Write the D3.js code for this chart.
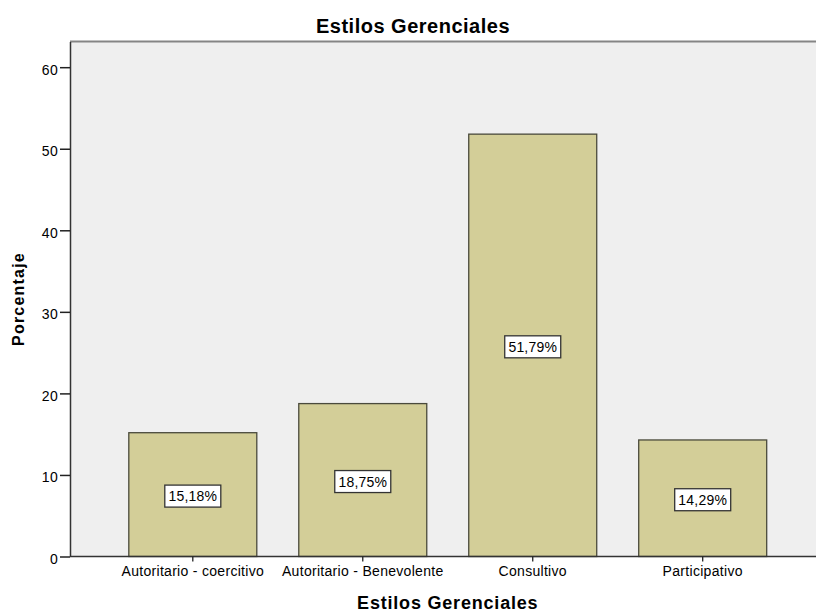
<!DOCTYPE html>
<html>
<head>
<meta charset="utf-8">
<script src="https://cdn.jsdelivr.net/npm/d3@7"></script>
<style>
  html, body { margin: 0; padding: 0; background: #ffffff; }
  svg { display: block; }
  text { font-family: "Liberation Sans", Arial, sans-serif; fill: #000; }
</style>
</head>
<body>
<svg id="chart" width="816" height="613"></svg>
<script>
const categories = ["Autoritario - coercitivo", "Autoritario - Benevolente", "Consultivo", "Participativo"];
const values = [15.18, 18.75, 51.79, 14.29];
const valueLabels = ["15,18%", "18,75%", "51,79%", "14,29%"];
const yTicks = [0, 10, 20, 30, 40, 50, 60];
const chartTitle = "Estilos Gerenciales";
const xTitle = "Estilos Gerenciales";
const yTitle = "Porcentaje";

(function () {
const svg = d3.select("#chart");
const W = 816, H = 613;
const pLeft = 70, pRight = 825.5, pTop = 41.5, pBottom = 556.5;

const x = d3.scaleBand().domain(categories).range([pLeft, pRight])
  .paddingInner(0.247).paddingOuter(0.346);
const y = d3.scaleLinear().domain([0, 63.15]).range([pBottom, pTop]);

// plot background
svg.append("rect")
  .attr("x", pLeft).attr("y", pTop)
  .attr("width", pRight - pLeft).attr("height", pBottom - pTop)
  .attr("fill", "#efefef");

// top border
svg.append("line")
  .attr("x1", pLeft).attr("x2", W).attr("y1", pTop).attr("y2", pTop)
  .attr("stroke", "#858585").attr("stroke-width", 2);

// bars
svg.append("g").selectAll("rect").data(categories).join("rect")
  .attr("x", d => x(d))
  .attr("y", (d, i) => y(values[i]))
  .attr("width", x.bandwidth())
  .attr("height", (d, i) => y(0) - y(values[i]))
  .attr("fill", "#d3ce98")
  .attr("stroke", "#4a4a3c")
  .attr("stroke-width", 1.3);

// y axis
const yAxis = d3.axisLeft(y).tickValues(yTicks).tickSize(10).tickSizeOuter(0).tickPadding(2).tickFormat(d3.format("d"));
const gy = svg.append("g").attr("transform", `translate(${pLeft},0)`).call(yAxis);
gy.select(".domain").attr("stroke", "#333").attr("stroke-width", 1.5);
gy.selectAll(".tick line").attr("stroke", "#222").attr("stroke-width", 1.5);
gy.selectAll(".tick text")
  .attr("font-size", "14px").attr("letter-spacing", "0.3px")
  .attr("font-family", "Liberation Sans, Arial, sans-serif")
  .attr("fill", "#111").attr("dy", "0.5em");

// x axis
const xAxis = d3.axisBottom(x).tickSize(5).tickPadding(5).tickSizeOuter(0);
const gx = svg.append("g").attr("transform", `translate(0,${pBottom})`).call(xAxis);
gx.select(".domain").attr("stroke", "#333").attr("stroke-width", 1.5)
  .attr("d", `M${pLeft},0H${W}`);
gx.selectAll(".tick line").attr("stroke", "#222").attr("stroke-width", 1.3);
gx.selectAll(".tick text")
  .attr("font-size", "14px").attr("letter-spacing", "0.3px")
  .attr("font-family", "Liberation Sans, Arial, sans-serif")
  .attr("fill", "#111").attr("dy", "0.7em");

// value labels
const lab = svg.append("g").selectAll("g").data(categories).join("g")
  .attr("transform", (d, i) => `translate(${x(d) + x.bandwidth() / 2},${y(values[i] / 2) + 1.5})`);
lab.append("rect")
  .attr("x", -28).attr("y", -11).attr("width", 56).attr("height", 22)
  .attr("fill", "#ffffff").attr("stroke", "#333").attr("stroke-width", 1.3);
lab.append("text")
  .attr("text-anchor", "middle").attr("dy", "0.36em")
  .attr("font-size", "14px").attr("letter-spacing", "0.2px")
  .attr("fill", "#111")
  .text((d, i) => valueLabels[i]);

// titles
svg.append("text")
  .attr("x", 413).attr("y", 32.5)
  .attr("text-anchor", "middle")
  .attr("font-size", "20px").attr("font-weight", "bold").attr("letter-spacing", "0.5px")
  .text(chartTitle);

svg.append("text")
  .attr("x", (pLeft + pRight) / 2).attr("y", 609)
  .attr("text-anchor", "middle")
  .attr("font-size", "18px").attr("font-weight", "bold").attr("letter-spacing", "0.8px")
  .text(xTitle);

svg.append("text")
  .attr("transform", `translate(24,${(pTop + pBottom) / 2}) rotate(-90)`)
  .attr("text-anchor", "middle")
  .attr("font-size", "16px").attr("font-weight", "bold").attr("letter-spacing", "1.2px")
  .text(yTitle);
})();
</script>
</body>
</html>
